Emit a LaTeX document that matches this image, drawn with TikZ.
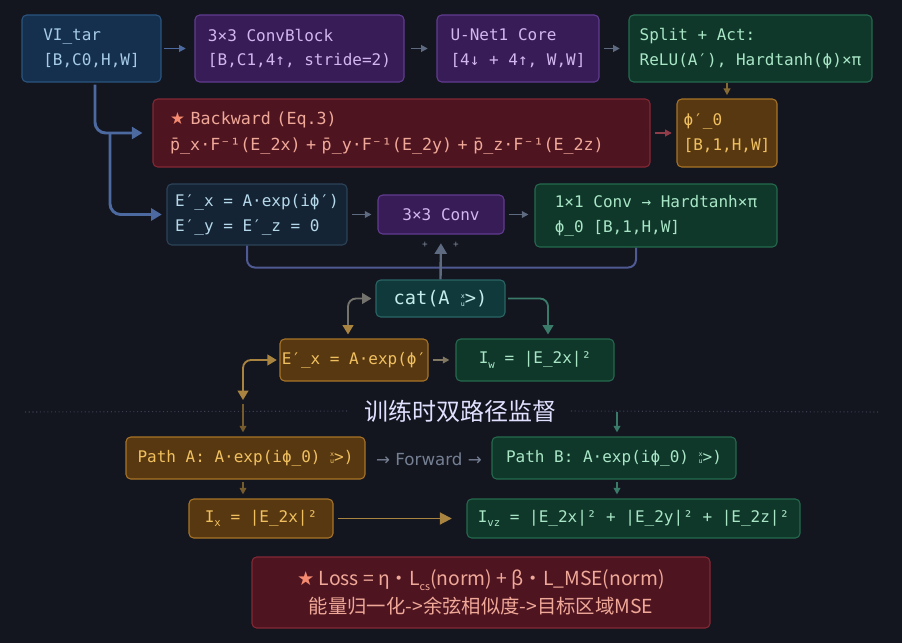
\documentclass[tikz,border=0pt]{standalone}
\usepackage{fontspec}
\setmonofont{DejaVu Sans Mono}
\newfontfamily\cjk{Noto Sans CJK SC}
\newfontfamily\symb{DejaVu Sans}
\usetikzlibrary{arrows.meta,positioning,calc}
\definecolor{bgnavy}{HTML}{13151F}
\definecolor{blufill}{HTML}{15304E}
\definecolor{bluline}{HTML}{2B5580}
\definecolor{blutext}{HTML}{A6CBE8}
\definecolor{purfill}{HTML}{381C57}
\definecolor{purline}{HTML}{623C90}
\definecolor{purtext}{HTML}{D2B6EE}
\definecolor{grnfill}{HTML}{0F372A}
\definecolor{grnline}{HTML}{256A4E}
\definecolor{grntext}{HTML}{A8E6C6}
\definecolor{redfill}{HTML}{4E1520}
\definecolor{redline}{HTML}{852835}
\definecolor{redtext}{HTML}{F0A898}
\definecolor{starcol}{HTML}{F48A70}
\definecolor{orgfill}{HTML}{583810}
\definecolor{orgline}{HTML}{A87428}
\definecolor{orgtext}{HTML}{F0C060}
\definecolor{navfill}{HTML}{142434}
\definecolor{navline}{HTML}{2C4358}
\definecolor{navtext}{HTML}{B5D8EA}
\definecolor{tealfill}{HTML}{10393B}
\definecolor{tealline}{HTML}{2A6666}
\definecolor{tealtext}{HTML}{C5ECEC}
\definecolor{flowgray}{HTML}{5D6A80}
\definecolor{flowblue}{HTML}{4D6AA0}
\definecolor{flowgold}{HTML}{A88440}
\definecolor{flowgrn}{HTML}{3A7A68}
\definecolor{sepgray}{HTML}{3A3F50}
\tikzset{
  blk/.style={rounded corners=3.5pt, line width=0.8pt, align=left, inner sep=0pt,
    font=\ttfamily\fontsize{12}{18.5}\selectfont},
  blubox/.style={blk, fill=blufill, draw=bluline, text=blutext},
  purbox/.style={blk, fill=purfill, draw=purline, text=purtext},
  grnbox/.style={blk, fill=grnfill, draw=grnline, text=grntext},
  redbox/.style={blk, fill=redfill, draw=redline, text=redtext},
  orgbox/.style={blk, fill=orgfill, draw=orgline, text=orgtext},
  navbox/.style={blk, fill=navfill, draw=navline, text=navtext},
  tealbox/.style={blk, fill=tealfill, draw=tealline, text=tealtext},
  arr/.style={-{Triangle[length=5pt,width=5pt]}, line width=1.4pt, draw=flowgray},
  bigarr/.style={-{Triangle[length=8pt,width=9pt]}, line width=2.2pt, draw=flowblue,
    rounded corners=8pt},
  brk/.style={line width=1.5pt, draw=flowgray!85!blue, rounded corners=6pt},
  sepline/.style={dotted, line width=0.8pt, draw=sepgray},
}
\newcommand{\smudge}{\raisebox{-0.2ex}{\fontsize{5}{5}\selectfont\shortstack{x\\u}}}
\newcommand{\sub}[1]{\raisebox{-0.5ex}{\fontsize{8}{8}\selectfont #1}}
\newcommand{\redstar}{{\symb\color{starcol}★}}
\begin{document}
\begin{tikzpicture}[x=0.75pt,y=-0.75pt]
  \fill[bgnavy] (0,0) rectangle (902,643);
  \useasboundingbox (0,0) rectangle (902,643);

  % top row
  \node[blubox, minimum width=104.25pt, minimum height=50.25pt] (vi) at (91.5,48.5)
    {VI\_tar\\{[}B,C0,H,W]};
  \node[purbox, minimum width=156.75pt, minimum height=50.25pt] (cb) at (299.5,48.5)
    {3×3 ConvBlock\\{[}B,C1,4↑, stride=2)};
  \node[purbox, minimum width=121.5pt, minimum height=50.25pt] (un) at (518,48.5)
    {U-Net1 Core\\{[}4↓ + 4↑, W,W]};
  \node[grnbox, minimum width=182.25pt, minimum height=50.25pt] (sp) at (750.5,48.5)
    {Split + Act:\\ReLU(A′), Hardtanh(ϕ)×π};

  % backward row
  \node[redbox, minimum width=372.75pt, minimum height=51pt, text width=347pt,
        font=\ttfamily\fontsize{12.5}{20}\selectfont] (bw) at (401.5,133)
    {\redstar\ Backward (Eq.3)\\p̄\_x·F⁻¹(E\_2x) + p̄\_y·F⁻¹(E\_2y) + p̄\_z·F⁻¹(E\_2z)};
  \node[orgbox, minimum width=75pt, minimum height=51pt] (phi) at (727,133)
    {ϕ′\_0\\{[}B,1,H,W]};

  % decoder row
  \node[navbox, minimum width=135pt, minimum height=45.75pt] (ex) at (257,214.5)
    {E′\_x = A·exp(iϕ′)\\E′\_y = E′\_z = 0};
  \node[purbox, minimum width=94.5pt, minimum height=29.25pt] (cv) at (441,214.5)
    {3×3 Conv};
  \node[grnbox, minimum width=181.5pt, minimum height=47.25pt] (oc) at (656,215.5)
    {1×1 Conv → Hardtanh×π\\ϕ\_0 [B,1,H,W]};
  \node[font=\ttfamily\fontsize{7}{7}\selectfont, text=flowgray!80!white] (pl1) at (425,245) {+};
  \node[font=\ttfamily\fontsize{7}{7}\selectfont, text=flowgray!80!white] (pl2) at (456,245) {+};

  % cat row
  \node[tealbox, minimum width=96.75pt, minimum height=27.75pt,
        font=\ttfamily\fontsize{14}{16}\selectfont] (cat) at (440.5,298.5)
    {cat(A \smudge>)};
  \node[orgbox, minimum width=111pt, minimum height=31.5pt] (exo) at (354,360)
    {E′\_x = A·exp(ϕ′};
  \node[grnbox, minimum width=118.5pt, minimum height=31.5pt] (iw) at (535,360)
    {I\sub{w} = |E\_2x|²};

  % training title
  \node[font=\cjk\fontsize{18}{20}\selectfont, text=white!88!blue, inner xsep=11pt] (title) at (460,411)
    {训练时双路径监督};
  \draw[sepline] (25,412) -- (title.west);
  \draw[sepline] (title.east) -- (880,412);

  % two paths
  \node[orgbox, minimum width=179.25pt, minimum height=31.5pt] (pa) at (245.5,458)
    {Path A: A·exp(iϕ\_0) \smudge>)};
  \node[font=\symb\fontsize{12.5}{14}\selectfont, text=flowgray!85!white] (fw) at (429,459)
    {→ Forward →};
  \node[grnbox, minimum width=183pt, minimum height=31.5pt] (pb) at (614,458)
    {Path B: A·exp(iϕ\_0) \smudge>)};
  \node[orgbox, minimum width=108pt, minimum height=29.25pt] (ix) at (261,518.5)
    {I\sub{x} = |E\_2x|²};
  \node[grnbox, minimum width=249.75pt, minimum height=29.25pt] (ixyz) at (633.5,518.5)
    {I\sub{vz} = |E\_2x|² + |E\_2y|² + |E\_2z|²};

  % loss
  \node[redbox, minimum width=343.5pt, minimum height=53.25pt, align=center,
        font=\cjk\fontsize{14.5}{21}\selectfont] (loss) at (481,592.5)
    {\redstar\ Loss = η·L\sub{cs}(norm) + β·L\_MSE(norm)\\能量归一化->余弦相似度->目标区域MSE};

  % top flow
  \draw[arr, draw=flowblue, shorten <=2pt, shorten >=6.5pt] (vi) -- (cb);
  \draw[arr, shorten <=4.5pt, shorten >=6.5pt] (cb) -- (un);
  \draw[arr, shorten <=3.5pt, shorten >=6.5pt] (un) -- (sp);
  \draw[arr, draw=flowgold!80!black, shorten >=2.5pt] (sp.south -| phi.north) -- (phi.north);
  \draw[arr, draw=redline!90!white, line width=2pt, shorten <=3pt, shorten >=3.5pt] (bw) -- (phi);

  % input skip
  \coordinate (fork) at (110,133);
  \draw[bigarr, shorten >=7.5pt] ($(vi.south)+(3.5,2)$) |- (bw.west);
  \draw[bigarr, shorten >=3.5pt] (fork) |- (ex.west);

  % decoder flow
  \draw[arr, shorten <=3.5pt, shorten >=4.5pt] (ex.east |- cv) -- (cv);
  \draw[arr, shorten <=3pt, shorten >=4.5pt] (cv) -- (oc.west |- cv);
  \draw[brk] ($(ex.south)+(-10,0)$) |- ($(oc.south)+(-20,20)$) -- ($(oc.south)+(-20,0)$);
  \draw[arr, -{Triangle[length=8pt,width=9pt]}, line width=1.8pt, shorten >=6.5pt] (cat.north) -- (cv.south);

  % cat links
  \draw[arr, {Triangle[length=7pt,width=8pt,color=flowgold]}-{Triangle[length=7pt,width=8pt]},
        draw=flowgray!70!flowgold, rounded corners=6pt, shorten >=3pt]
    ($(exo.north)+(-6,-4)$) |- (cat.west);
  \draw[arr, -{Triangle[length=7pt,width=8pt]}, draw=flowgrn, rounded corners=6pt, shorten <=2pt]
    (cat.east) -| ($(iw.north)+(13,-4)$);
  \draw[arr, draw=flowgold!50!flowgray, shorten <=3pt, shorten >=4.5pt] (exo) -- (iw);

  % split into the two paths
  \coordinate (pamid) at (243,400);
  \draw[arr, {Triangle[length=7pt,width=8pt]}-{Triangle[length=7pt,width=8pt]},
        draw=flowgold, rounded corners=6pt, shorten <=2pt]
    (exo.west) -| (pamid);
  \draw[arr, draw=flowgold!70!black, shorten <=3pt, shorten >=3pt] (pamid) -- (pamid |- pa.north);
  \coordinate (pbtop) at (617,412);
  \draw[arr, draw=flowgrn, shorten >=3pt] (pbtop) -- (pbtop |- pb.north);

  % path outputs
  \draw[arr, draw=flowgold!70!black, shorten <=2pt, shorten >=3pt] (pamid |- pa.south) -- (pamid |- ix.north);
  \draw[arr, draw=flowgrn, shorten <=2pt, shorten >=3pt] (pbtop |- pb.south) -- (pbtop |- ixyz.north);
  \draw[arr, -{Triangle[length=9pt,width=9pt]}, draw=flowgold, shorten <=3.5pt, shorten >=11pt] (ix) -- (ixyz);
\end{tikzpicture}
\end{document}
